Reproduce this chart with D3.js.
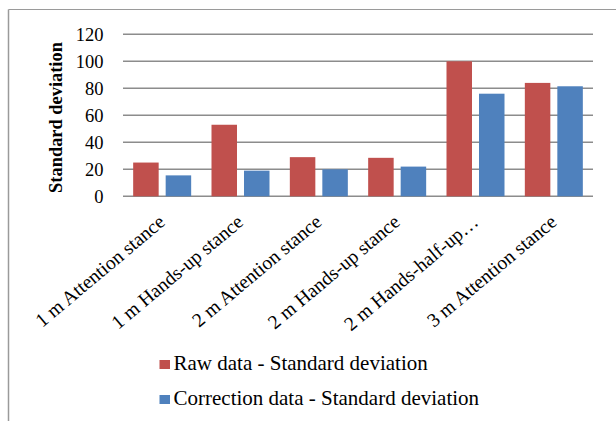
<!DOCTYPE html>
<html><head><meta charset="utf-8">
<script src="https://cdn.jsdelivr.net/npm/d3@7"></script>
<style>html,body{margin:0;padding:0;background:#fff;}</style>
</head><body>
<svg id="c" width="616" height="421"></svg>
<script>
const categories = ["1 m Attention stance","1 m Hands-up stance","2 m Attention stance","2 m Hands-up stance","2 m Hands-half-up…","3 m Attention stance"];
const rawData = [25, 53, 29, 28.5, 100, 84];
const correctionData = [15.5, 19, 20, 22, 76, 81.5];
const seriesNames = ["Raw data - Standard deviation","Correction data - Standard deviation"];
const seriesColors = ["#C0504D","#4F81BD"];
const yTicks = [0,20,40,60,80,100,120];

const svg = d3.select("#c");
const font = "'Liberation Serif','Times New Roman',serif";
// frame
svg.append("line").attr("x1",8.5).attr("x2",616).attr("y1",9.5).attr("y2",9.5).attr("stroke","#9a9a9a").attr("stroke-width",1);
svg.append("line").attr("x1",8.5).attr("x2",8.5).attr("y1",9.5).attr("y2",421).attr("stroke","#9a9a9a").attr("stroke-width",1.5);

const x0 = d3.scaleBand().domain(categories).range([123,593]).paddingInner(0).paddingOuter(0);
const y = d3.scaleLinear().domain([0,120]).range([196.3,34.3]);

// gridlines
svg.append("g").selectAll("line").data(yTicks).join("line")
  .attr("x1",123).attr("x2",593).attr("y1",d=>y(d)).attr("y2",d=>y(d))
  .attr("stroke","#8c8c8c").attr("stroke-width",1.5);

// y tick labels
const yAxis = d3.axisLeft(y).tickValues(yTicks).tickSize(0).tickPadding(0);
const gy = svg.append("g").attr("transform","translate(103.5,0)").call(yAxis);
gy.select(".domain").remove();
gy.selectAll("text").attr("font-family",font).attr("font-size",18.5).attr("fill","#000").attr("dy","0.34em");

// bars
const series = [rawData, correctionData];
const bw = 25.5, gap = 7;
categories.forEach((c,i)=>{
  const cx = x0(c) + x0.bandwidth()/2;
  series.forEach((s,j)=>{
    const xx = j===0 ? cx - gap/2 - bw : cx + gap/2;
    svg.append("rect").attr("x",xx).attr("y",y(s[i])).attr("width",bw).attr("height",y(0)-y(s[i]))
      .attr("fill",seriesColors[j]);
  });
});

// x labels
svg.append("g").selectAll("text").data(categories).join("text")
  .attr("transform",d=>`translate(${x0(d)+x0.bandwidth()/2+4},${224}) rotate(-40)`)
  .attr("text-anchor","end").attr("font-family",font).attr("font-size",19.6).attr("fill","#000")
  .text(d=>d);

// y title
svg.append("text").attr("transform","translate(61.5,117.5) rotate(-90)").attr("text-anchor","middle")
  .attr("font-family",font).attr("font-size",18.4).attr("font-weight","bold").text("Standard deviation");

// legend
const lg = svg.append("g");
seriesNames.forEach((n,i)=>{
  const yy = 360 + i*35;
  lg.append("rect").attr("x",159.5).attr("y",yy).attr("width",10.5).attr("height",9).attr("fill",seriesColors[i]);
  lg.append("text").attr("x",173.5).attr("y",yy+10).attr("font-family",font).attr("font-size",21).text(n);
});
</script>
</body></html>
